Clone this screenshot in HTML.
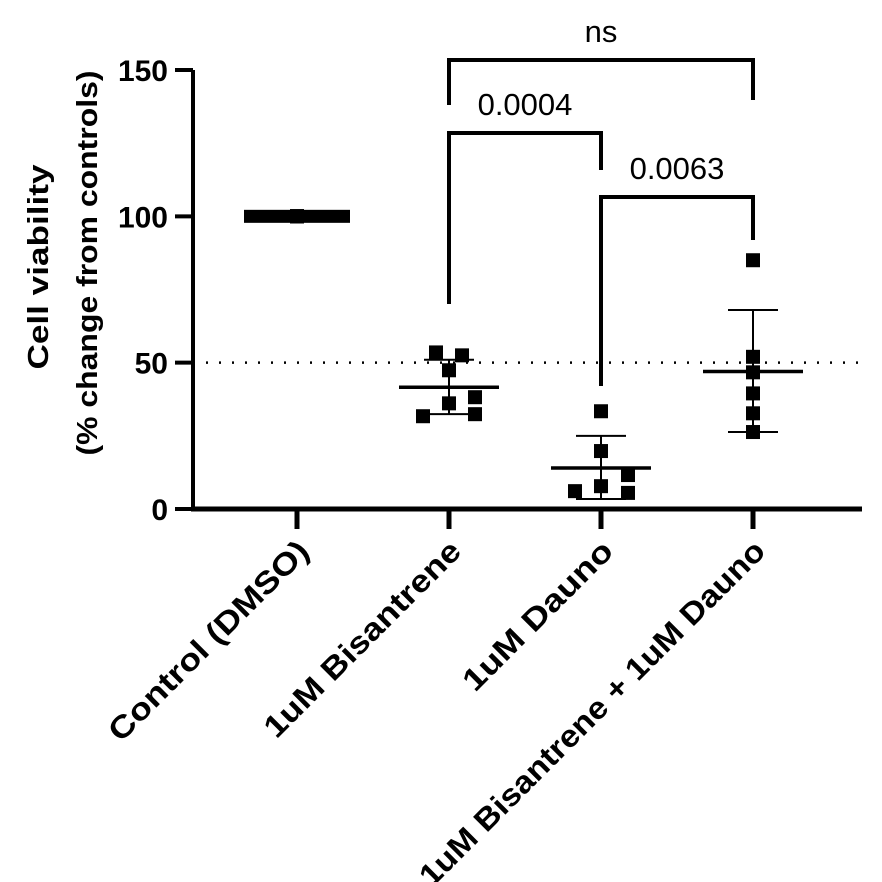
<!DOCTYPE html>
<html><head><meta charset="utf-8"><style>body{margin:0;background:#fff}svg{display:block;font-family:"Liberation Sans",Arial,sans-serif}</style></head>
<body>
<svg id="c" width="882" height="882" viewBox="0 0 882 882"></svg>
<script>
const categories=["Control (DMSO)","1uM Bisantrene","1uM Dauno","1uM Bisantrene + 1uM Dauno"];
const ctrlVals=[100,100,100,100,100,100];
const bisVals=[53.5,52.5,47.4,38.2,36.1,32.4,31.7];
const daunoVals=[33.4,19.8,11.6,7.8,6.1,5.5];
const comboVals=[85,52,46.7,39.5,32.7,26.3];
const means=[100,41.6,14,47];
const sdUp=[100,51,25,68];
const sdLo=[100,32.4,3.4,26.3];
const yTicks=[0,50,100,150];
const jitterX=[[0,0,0,0,0,0],[-13,13,0,26,0,26,-26],[0,0,27,0,-26,27],[0,0,0,0,0,0]];
const labelLen=[269,264,198,474];
const svg=document.getElementById('c');const NS='http://www.w3.org/2000/svg';
function y(v){return 509-v*(439/150);}
function x(i){return 297+i*152;}
function el(t,a,p){const e=document.createElementNS(NS,t);for(const k in a)e.setAttribute(k,a[k]);(p||svg).appendChild(e);return e;}
let e;
e=el('line',{x1:193,y1:y(150),x2:193,y2:y(0)+2,stroke:'#000','stroke-width':4});


e=el('line',{x1:191,y1:y(0),x2:862,y2:y(0),stroke:'#000','stroke-width':5});


yTicks.forEach(v=>{
 e=el('line',{x1:175,y1:y(v),x2:193,y2:y(v),stroke:'#000','stroke-width':4});
 
 
 e=el('text',{x:168,y:y(v)+11,'text-anchor':'end','font-size':30,'font-weight':'bold'});e.textContent=v;
 
 
});
e=el('text',{transform:'translate(48,267) rotate(-90)','text-anchor':'middle','font-size':29,'font-weight':'bold',textLength:205,lengthAdjust:'spacingAndGlyphs'});e.textContent='Cell viability';


e=el('text',{transform:'translate(97,263) rotate(-90)','text-anchor':'middle','font-size':29,'font-weight':'bold',textLength:385,lengthAdjust:'spacingAndGlyphs'});e.textContent='(% change from controls)';


e=el('line',{x1:193,y1:y(50),x2:862,y2:y(50),stroke:'#000','stroke-width':2.5,'stroke-dasharray':'2 11'});


categories.forEach((c,i)=>{
 e=el('line',{x1:x(i),y1:y(0),x2:x(i),y2:y(0)+20,stroke:'#000','stroke-width':5});
 
 
 e=el('text',{transform:`translate(${x(i)+14},${y(0)+44}) rotate(-45)`,'text-anchor':'end','font-size':31,'font-weight':'bold',textLength:labelLen[i],lengthAdjust:'spacingAndGlyphs'});e.textContent=c;
 
 
});
const series=[ctrlVals,bisVals,daunoVals,comboVals];
series.forEach((vals,i)=>{
 if(i>0){
  e=el('line',{x1:x(i),y1:y(sdUp[i]),x2:x(i),y2:y(sdLo[i]),stroke:'#000','stroke-width':2});
  
  
  [sdUp[i],sdLo[i]].forEach(v=>{e=el('line',{x1:x(i)-25,y1:y(v),x2:x(i)+25,y2:y(v),stroke:'#000','stroke-width':2});
  
  });
 }
 vals.forEach((v,j)=>{
  const dx=i===0?0:jitterX[i][j];
  e=el('rect',{x:x(i)+dx-7,y:y(v)-7,width:14,height:14,fill:'#000'});
  
  
 });
 if(i===0){e=el('rect',{x:x(0)-53,y:y(means[0])-6.5,width:106,height:13,fill:'#000'});}
 else{e=el('line',{x1:x(i)-50,y1:y(means[i]),x2:x(i)+50,y2:y(means[i]),stroke:'#000','stroke-width':3.5});}
 
 
});
function bracket(a,b,top,la,lb,label,name){
 const g=el('g',{});
 
 
 el('polyline',{points:`${x(a)},${la} ${x(a)},${top} ${x(b)},${top} ${x(b)},${lb}`,fill:'none',stroke:'#000','stroke-width':4},g);
 const t=el('text',{x:(x(a)+x(b))/2,y:top-18,'text-anchor':'middle','font-size':31},g);t.textContent=label;
}
bracket(1,3,60,105,100,'ns','bracket-ns');
bracket(1,2,133,304,170,'0.0004','bracket-0.0004');
bracket(2,3,197,386,240,'0.0063','bracket-0.0063');
</script>
</body></html>
